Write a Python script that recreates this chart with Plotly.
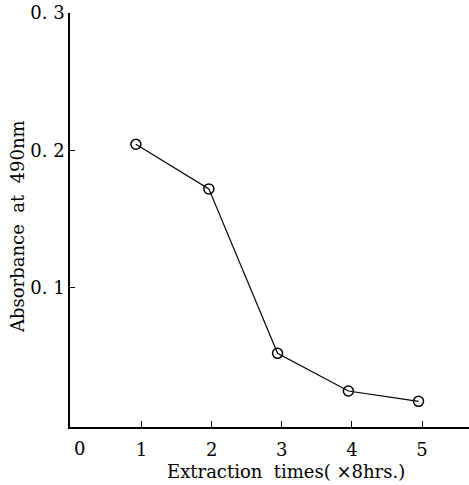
import plotly.graph_objects as go

x_vals = [0.92, 1.96, 2.94, 3.95, 4.95]
y_vals = [0.2045, 0.172, 0.0523, 0.0249, 0.0174]

x_ticks = [1, 2, 3, 4, 5]
x_ticktext = ["1", "2", "3", "4", "5"]
y_ticks = [0.1, 0.2, 0.3]
y_ticktext = ["0. 1", "0. 2", "0. 3"]

x_title = "Extraction  times( ×8hrs.)"
y_title = "Absorbance  at  490nm"

FONT = "DejaVu Serif, Liberation Serif, serif"
L, R, T, B, W, H = 70, 0, 13, 58, 469, 485
pw, ph = W - L - R, H - T - B

fig = go.Figure()
fig.add_trace(go.Scatter(
    x=x_vals, y=y_vals, mode="lines+markers",
    line=dict(color="black", width=1.2),
    marker=dict(symbol="circle-open", size=10, color="black", line=dict(width=1.5)),
    showlegend=False,
))

fig.add_annotation(x=0.11, y=0, yref="y", xref="x", text="0", showarrow=False,
                   yanchor="top", yshift=-11, font=dict(family=FONT, size=18, color="black"))
fig.add_annotation(x=(285.5 - L) / pw, y=(H - B - 471) / ph, xref="paper", yref="paper",
                   text=x_title, showarrow=False, xanchor="center", yanchor="middle",
                   font=dict(family=FONT, size=18, color="black"))
fig.add_annotation(x=(17 - L) / pw, y=(H - B - 227) / ph, xref="paper", yref="paper",
                   text=y_title, showarrow=False, textangle=-90,
                   xanchor="center", yanchor="middle",
                   font=dict(family=FONT, size=18, color="black"))

fig.update_layout(
    width=W, height=H,
    margin=dict(l=L, r=R, t=T, b=B),
    paper_bgcolor="white", plot_bgcolor="white",
    font=dict(family=FONT, color="black"),
    xaxis=dict(
        range=[-0.02, 5.67], tickvals=x_ticks, ticktext=x_ticktext,
        ticks="inside", ticklen=6, tickwidth=1.2, tickcolor="black",
        showline=True, linecolor="black", linewidth=1.5,
        showgrid=False, zeroline=False, ticklabelstandoff=6,
        tickfont=dict(size=18, family=FONT),
    ),
    yaxis=dict(
        range=[-0.0013, 0.3], tickvals=y_ticks, ticktext=y_ticktext,
        ticks="inside", ticklen=5, tickwidth=1.2, tickcolor="black",
        showline=True, linecolor="black", linewidth=1.5,
        showgrid=False, zeroline=False,
        tickfont=dict(size=18, family=FONT),
    ),
)

fig.write_html("out.html")
